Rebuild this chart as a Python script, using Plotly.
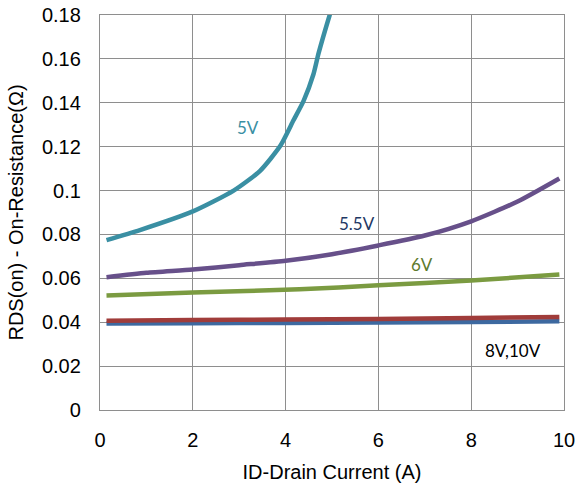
import plotly.graph_objects as go

# Drain current (A) sample points for each gate-voltage curve
id_5v = [0.14, 0.86, 2.0, 2.88, 3.45, 3.89, 4.17, 4.39, 4.6, 4.71, 4.95, 5.1]
rds_5v = [0.0774, 0.0820, 0.0905, 0.1000, 0.1090, 0.1205, 0.1320, 0.1410, 0.1530, 0.1625, 0.1800, 0.1900]

id_55v = [0.14, 1.0, 2.0, 3.0, 4.0, 5.0, 6.0, 7.0, 8.0, 9.0, 9.9]
rds_55v = [0.0605, 0.0625, 0.0640, 0.0660, 0.0680, 0.0710, 0.0750, 0.0795, 0.0860, 0.0950, 0.1055]

id_6v = [0.14, 2.0, 4.3, 6.0, 8.0, 9.9]
rds_6v = [0.0522, 0.0535, 0.0550, 0.0568, 0.0590, 0.0617]

id_8v = [0.14, 2.0, 4.0, 6.0, 8.0, 9.9]
rds_8v = [0.0407, 0.0410, 0.0412, 0.0415, 0.0419, 0.0424]

id_10v = [0.14, 2.0, 4.0, 6.0, 8.0, 9.9]
rds_10v = [0.0394, 0.0395, 0.0397, 0.0399, 0.0401, 0.0404]

x_ticks = [0, 2, 4, 6, 8, 10]
y_ticks = [0, 0.02, 0.04, 0.06, 0.08, 0.1, 0.12, 0.14, 0.16, 0.18]
y_tick_text = ["0", "0.02", "0.04", "0.06", "0.08", "0.1", "0.12", "0.14", "0.16", "0.18"]

# Curve annotations: (text, x, y, color)
curve_labels = [
    ("5V", 3.20, 0.1286, "#3A8FA3"),
    ("5.5V", 5.54, 0.0852, "#1F3864"),
    ("6V", 6.94, 0.0663, "#5E7A2E"),
    ("8V,10V", 8.89, 0.0273, "#000000"),
]

series = [
    (id_10v, rds_10v, "#3D69A0"),
    (id_8v, rds_8v, "#A03C3A"),
    (id_6v, rds_6v, "#7B9B41"),
    (id_55v, rds_55v, "#67508A"),
    (id_5v, rds_5v, "#3A8FA3"),
]

fig = go.Figure()
for xs, ys, color in series:
    fig.add_trace(go.Scatter(
        x=xs, y=ys, mode="lines",
        line=dict(color=color, width=4.5, shape="spline", smoothing=0.6),
        showlegend=False, hoverinfo="skip",
    ))

for text, x, y, color in curve_labels:
    fig.add_annotation(
        x=x, y=y, text=text, showarrow=False,
        font=dict(family="Lato", size=17, color=color),
    )

grid_color = "#8E8E8E"
axis_font = dict(family="Liberation Sans, Arial", size=20, color="#000000")

fig.update_layout(
    width=577, height=487,
    margin=dict(l=100, r=13, t=15, b=77, autoexpand=False),
    paper_bgcolor="white", plot_bgcolor="white",
    xaxis=dict(
        range=[0, 10], tickvals=x_ticks, ticktext=[str(v) for v in x_ticks],
        showgrid=True, gridcolor=grid_color, gridwidth=1.3,
        showline=True, linecolor=grid_color, linewidth=1.3, mirror=True,
        zeroline=False, ticks="", ticklabelstandoff=12, automargin=False,
        tickfont=axis_font,
        title=dict(text="ID-Drain Current (A)", font=axis_font, standoff=14),
    ),
    yaxis=dict(
        range=[0, 0.18], tickvals=y_ticks, ticktext=y_tick_text,
        showgrid=True, gridcolor=grid_color, gridwidth=1.3,
        showline=True, linecolor=grid_color, linewidth=1.3, mirror=True,
        zeroline=False, ticks="", ticklabelstandoff=14, automargin=False,
        tickfont=axis_font,
        title=dict(text="RDS(on) - On-Resistance(Ω)", font=axis_font, standoff=12),
    ),
)

fig.write_html("out.html")
